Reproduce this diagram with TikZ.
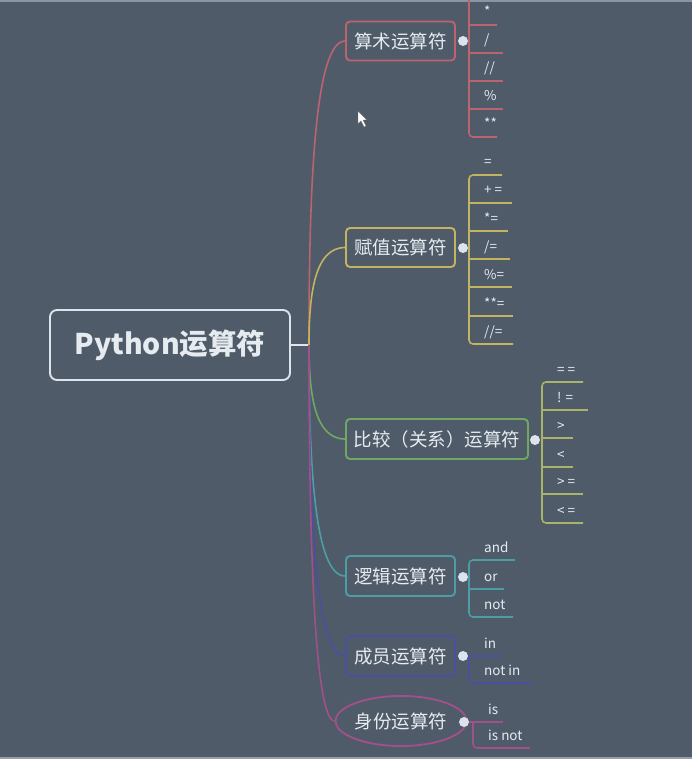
\documentclass[tikz,border=0pt]{standalone}
\usepackage{fontspec}
\setmainfont{Noto Sans CJK SC}
\usetikzlibrary{shapes.geometric,calc}
\definecolor{bg}{HTML}{4F5B69}
\definecolor{txt}{HTML}{E6EBF0}
\definecolor{rootc}{HTML}{DDE4EC}
\definecolor{cA}{HTML}{B9646E}
\definecolor{cB}{HTML}{C2B460}
\definecolor{cC}{HTML}{6FA862}
\definecolor{cCk}{HTML}{A9B46A}
\definecolor{cD}{HTML}{4B9EA4}
\definecolor{cE}{HTML}{4A50A0}
\definecolor{cF}{HTML}{A0508A}
\definecolor{dotc}{HTML}{DCE3EE}
\definecolor{topstrip}{HTML}{8A95A3}
\definecolor{botstrip}{HTML}{969EA8}
\tikzset{
  branch/.style={line width=1.6pt},
  topic/.style={draw, line width=1.9pt, rounded corners=4pt, minimum width=109pt, minimum height=39pt, inner sep=0pt, text=txt, font=\fontsize{18.5}{18.5}\selectfont},
  kidtext/.style={inner sep=0pt, text=txt, font=\fontsize{13.5}{13.5}\selectfont},
  kidline/.style={line width=1.6pt, rounded corners=4pt},
  dotn/.style={circle, fill=dotc, minimum size=10pt, inner sep=0pt},
}
% #1 name, #2 text, #3 underline y, #4 vertical x
\newcommand\kidlab[4]{\node[kidtext, anchor=base west] (#1) at (#4+15,#3-8) {#2};}
\begin{document}
\begin{tikzpicture}[x=1pt,y=-1pt]
\fill[bg] (0,0) rectangle (692,759);
\useasboundingbox (0,0) rectangle (692,759);
\fill[topstrip] (0,0) rectangle (692,2);
\fill[botstrip] (0,757) rectangle (692,759);

% root
\node[draw=rootc, line width=1.9pt, rounded corners=7pt, minimum width=240pt, minimum height=70pt, inner sep=0pt, text=txt, font=\fontsize{28.5}{28.5}\selectfont\bfseries] (root) at (170,345) {Python运算符};
\coordinate (j) at (309,345);
\draw[rootc, line width=1.6pt] (root.east) -- (j);

% topics
\node[topic, draw=cA] (a) at (400.5,41) {算术运算符};
\node[topic, draw=cB] (b) at (400.5,247.5) {赋值运算符};
\node[topic, draw=cC, minimum width=182pt, minimum height=40pt] (c) at (437,439) {比较（关系）运算符};
\node[topic, draw=cD, minimum height=40pt] (d) at (400.5,576) {逻辑运算符};
\node[topic, draw=cE, minimum height=40pt] (e) at (400.5,656) {成员运算符};
\node[topic, draw=cF, ellipse, rounded corners=0pt, minimum width=110pt, minimum height=50pt] (f) at (401,721) {身份运算符};

% branches
\foreach \n/\c in {a/cA,b/cB,c/cC,d/cD,e/cE,f/cF}{
  \draw[branch, \c] (j) .. controls ($(j)!0.5!(j |- \n.west)$) and ($(j |- \n.west)+(5,0)$) .. (\n.west);
}

% dots
\node[dotn] (da) at (463,41) {};
\node[dotn] (db) at (463,248) {};
\node[dotn] (dc) at (535,440) {};
\node[dotn] (dd) at (463,577) {};
\node[dotn] (de) at (463,656) {};
\node[dotn] (df) at (464,722) {};

% arithmetic children
\draw[kidline, cA] (469,-2) -- (469,137) -- (497,137);
\foreach \y/\e in {25/497,53/503,81/503,109/503}{\draw[kidline, cA] (469,\y) -- (\e,\y);}
\kidlab{a1}{*}{25}{469}
\kidlab{a2}{/}{53}{469}
\kidlab{a3}{//}{81}{469}
\kidlab{a4}{\%}{109}{469}
\kidlab{a5}{**}{137}{469}

% assignment children
\draw[kidline, cB] (502,175) -- (469,175) -- (469,344) -- (513,344);
\foreach \y/\e in {203/512,231/508,259/510,287/512,316/513}{\draw[kidline, cB] (469,\y) -- (\e,\y);}
\kidlab{b1}{=}{175}{469}
\kidlab{b2}{+ =}{203}{469}
\kidlab{b3}{*=}{231}{469}
\kidlab{b4}{/=}{259}{469}
\kidlab{b5}{\%=}{287}{469}
\kidlab{b6}{**=}{316}{469}
\kidlab{b7}{//=}{344}{469}

% comparison children
\draw[kidline, cCk] (583,382) -- (542,382) -- (542,523) -- (583,523);
\foreach \y/\e in {410/588,438/573,467/573,494/583}{\draw[kidline, cCk] (542,\y) -- (\e,\y);}
\kidlab{c1}{= =}{382}{542}
\kidlab{c2}{! =}{410}{542}
\kidlab{c3}{>}{438}{542}
\kidlab{c4}{<}{467}{542}
\kidlab{c5}{> =}{494}{542}
\kidlab{c6}{< =}{523}{542}

% logical children
\draw[kidline, cD] (515,560) -- (469,560) -- (469,617) -- (513,617);
\draw[kidline, cD] (469,589) -- (504,589);
\draw[kidline, cD] (dd) -- (469,577);
\kidlab{d1}{and}{560}{469}
\kidlab{d2}{or}{589}{469}
\kidlab{d3}{not}{617}{469}

% member children
\draw[kidline, cE] (de) -- (500,656);
\draw[kidline, cE] (469,656) -- (469,683) -- (532,683);
\kidlab{e1}{in}{656}{469}
\kidlab{e2}{not in}{683}{469}

% identity children
\draw[kidline, cF] (df) -- (503,722);
\draw[kidline, cF] (473,722) -- (473,748) -- (530,748);
\kidlab{f1}{is}{722}{473}
\kidlab{f2}{is not}{748}{473}

% mouse cursor
\fill[white, draw=black!60, line width=0.4pt] (358,111) -- (358,124) -- (361,121) -- (364,127) -- (366,126) -- (363,120) -- (367,120) -- cycle;
\end{tikzpicture}
\end{document}
